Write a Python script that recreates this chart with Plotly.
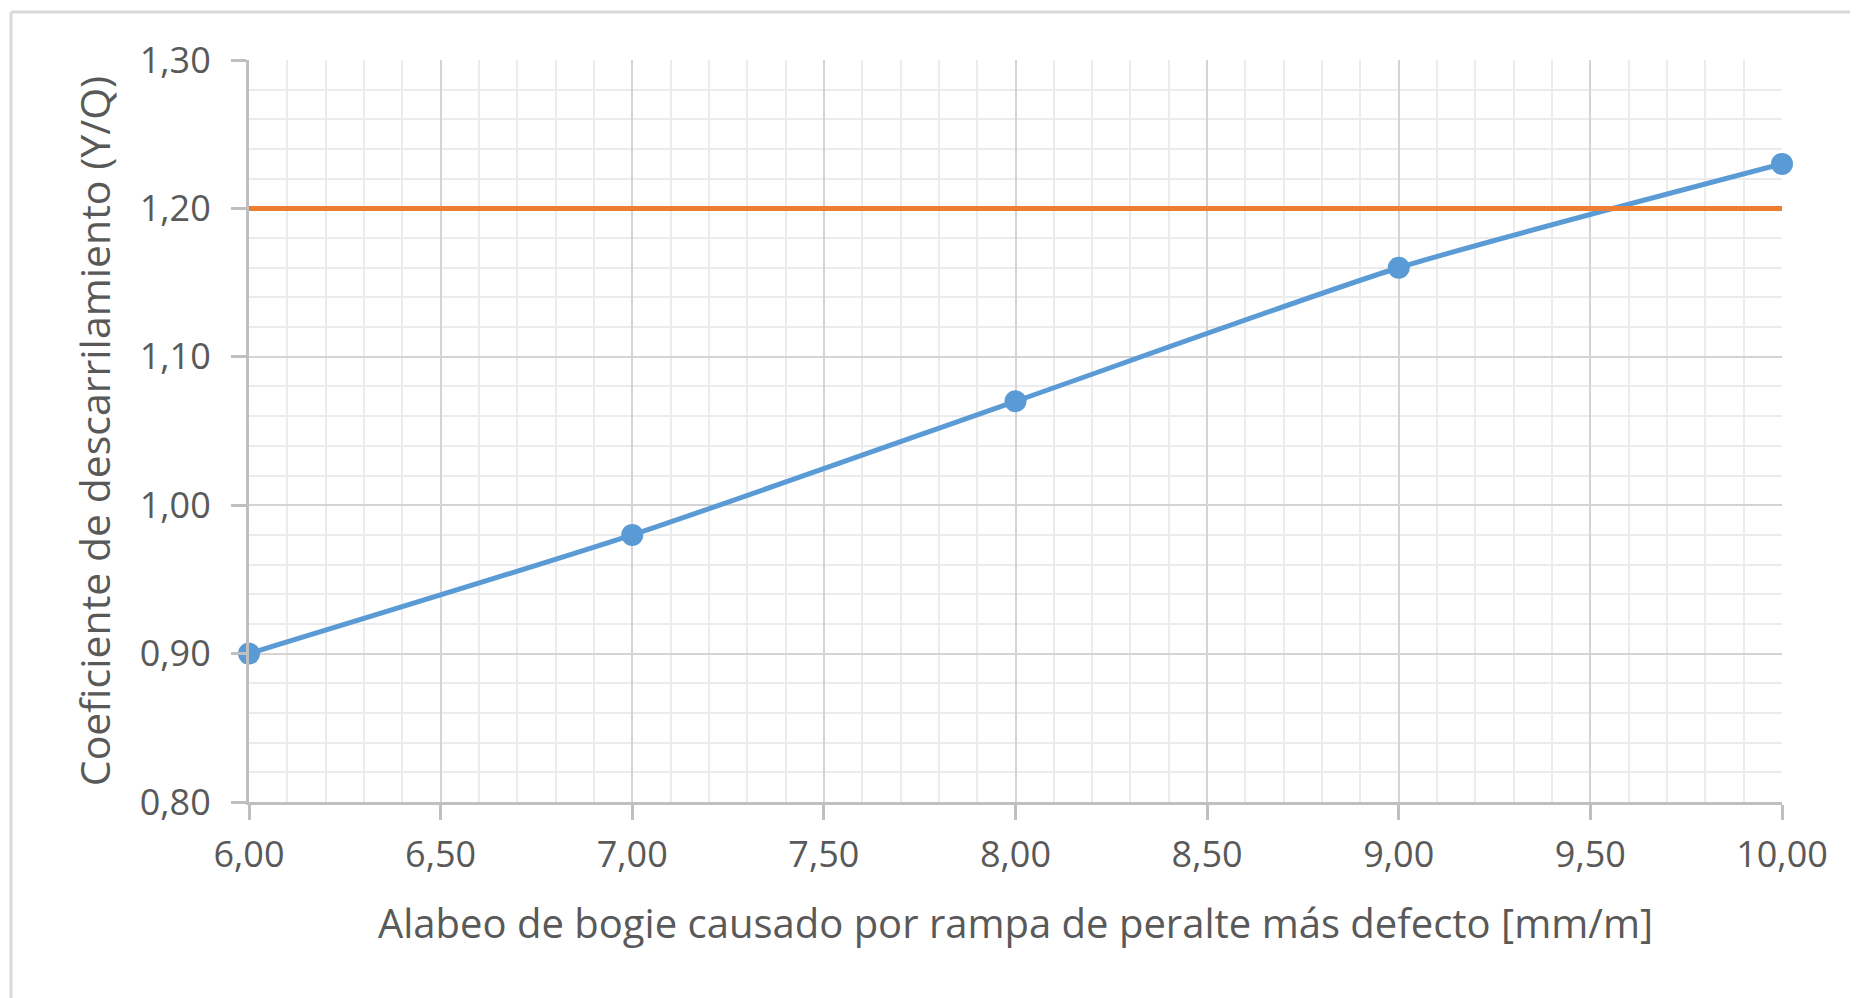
import plotly.graph_objects as go

x_vals = [6.0, 7.0, 8.0, 9.0, 10.0]
yq_vals = [0.90, 0.98, 1.07, 1.16, 1.23]
limit_x = [6.0, 10.0]
limit_y = [1.20, 1.20]

W, H = 1858, 998
L, R, T, B = 241, 84, 52, 204
pw, ph = W - L - R, H - T - B

txt = "#595959"
font_family = "Open Sans"

fig = go.Figure()
fig.add_trace(go.Scatter(
    x=x_vals, y=yq_vals, mode="lines+markers",
    line=dict(color="#5b9bd5", width=5, shape="spline", smoothing=0.6),
    marker=dict(color="#5b9bd5", size=22),
    cliponaxis=False,
    showlegend=False,
))
fig.add_trace(go.Scatter(
    x=limit_x, y=limit_y, mode="lines",
    line=dict(color="#ed7d31", width=5),
    showlegend=False,
))

def px_to_paper_x(px):
    return (px - L) / pw

def px_to_paper_y(py):
    return 1 - (py - T) / ph

fx = px_to_paper_x(3)
fy = px_to_paper_y(4)
fig.add_shape(type="line", xref="paper", yref="paper", x0=fx, x1=px_to_paper_x(W + 5), y0=fy, y1=fy,
              line=dict(color="#d9d9d9", width=3), layer="above")
fig.add_shape(type="line", xref="paper", yref="paper", x0=fx, x1=fx, y0=fy, y1=px_to_paper_y(H + 5),
              line=dict(color="#d9d9d9", width=3), layer="above")

fig.update_layout(
    width=W, height=H,
    margin=dict(l=L, r=R, t=T, b=B, autoexpand=False),
    paper_bgcolor="white", plot_bgcolor="white",
    separators=",.",
    font=dict(family=font_family, color=txt, size=35),
)
fig.update_xaxes(
    range=[6, 10], dtick=0.5, tick0=6, tickformat=".2f",
    showgrid=True, gridcolor="#d4d4d4", gridwidth=2,
    minor=dict(dtick=0.1, tick0=6, showgrid=True, gridcolor="#ececec", gridwidth=2, ticks=""),
    showline=True, linecolor="#bfbfbf", linewidth=3,
    ticks="outside", ticklen=15, tickcolor="#bfbfbf", tickwidth=3,
    ticklabelstandoff=4,
    tickfont=dict(size=36, color=txt, family=font_family),
    title=dict(text="Alabeo de bogie causado por rampa de peralte más defecto [mm/m]",
               font=dict(size=40, color=txt, family=font_family), standoff=33),
    zeroline=False, automargin=False,
)
fig.update_yaxes(
    range=[0.80, 1.30], dtick=0.1, tick0=0.8, tickformat=".2f",
    showgrid=True, gridcolor="#d4d4d4", gridwidth=2,
    minor=dict(dtick=0.02, tick0=0.8, showgrid=True, gridcolor="#ececec", gridwidth=2, ticks=""),
    showline=True, linecolor="#bfbfbf", linewidth=3,
    ticks="outside", ticklen=15, tickcolor="#bfbfbf", tickwidth=3,
    ticklabelstandoff=13,
    tickfont=dict(size=36, color=txt, family=font_family),
    title=dict(text="Coeficiente de descarrilamiento (Y/Q)",
               font=dict(size=41, color=txt, family=font_family), standoff=17),
    zeroline=False, automargin=False,
)

fig.write_html("out.html")
